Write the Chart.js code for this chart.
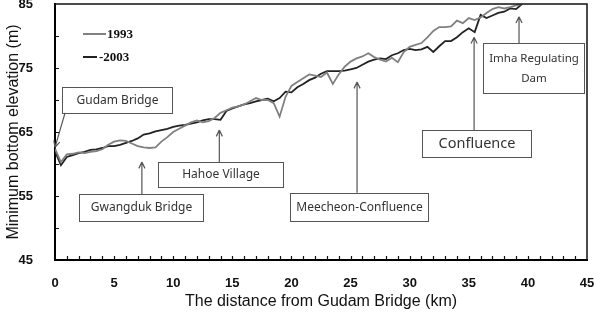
<!DOCTYPE html>
<html>
<head>
<meta charset="utf-8">
<script src="https://cdn.jsdelivr.net/npm/chart.js@4.4.1/dist/chart.umd.min.js"></script>
<style>
  html, body { margin: 0; padding: 0; background: #fff; }
  #wrap { width: 597px; height: 315px; }
</style>
</head>
<body>
<div id="wrap"><canvas id="chart"></canvas></div>
<script>
const DISTANCE_KM = [
  0, 0.5, 1, 1.5, 2, 2.5, 3, 3.5, 4, 4.5, 5, 5.5, 6, 6.5, 7, 7.5, 8, 8.5, 9, 9.5,
  10, 10.5, 11, 11.5, 12, 12.5, 13, 13.5, 14, 14.5, 15, 15.5, 16, 16.5, 17, 17.5, 18, 18.5, 19, 19.5,
  20, 20.5, 21, 21.5, 22, 22.5, 23, 23.5, 24, 24.5, 25, 25.5, 26, 26.5, 27, 27.5, 28, 28.5, 29, 29.5,
  30, 30.5, 31, 31.5, 32, 32.5, 33, 33.5, 34, 34.5, 35, 35.5, 36, 36.5, 37, 37.5, 38, 38.5, 39, 39.5,
];
const ELEV_1993 = [
  62.4, 60.3, 61.5, 61.6, 61.8, 61.7, 61.9, 62.0, 62.3, 63.0, 63.5, 63.7, 63.6, 63.2, 62.8, 62.6, 62.5, 62.6, 63.5, 64.2,
  65.0, 65.5, 66.0, 66.5, 66.8, 66.5, 66.7, 67.2, 68.0, 68.4, 68.8, 69.0, 69.3, 69.8, 70.3, 70.0, 70.0, 69.5, 67.4, 70.5,
  72.2, 72.8, 73.4, 74.0, 73.8, 73.6, 74.3, 72.5, 74.0, 75.2, 76.0, 76.5, 76.8, 77.3, 76.7, 76.3, 76.0, 76.6, 75.9, 77.5,
  78.3, 78.6, 78.9, 79.8, 80.8, 81.4, 81.4, 81.5, 82.4, 82.0, 82.8, 82.5, 82.9, 83.6, 84.2, 84.5, 84.3, 84.5, 84.8, 85.0,
];
const ELEV_2003 = [
  62.0, 59.8, 61.1, 61.4, 61.7, 61.9, 62.2, 62.3, 62.5, 62.8, 62.8, 63.0, 63.3, 63.6, 64.0, 64.6, 64.8, 65.1, 65.3, 65.5,
  65.8, 66.0, 66.1, 66.3, 66.5, 66.8, 67.0, 67.0, 66.9, 68.3, 68.7, 69.0, 69.3, 69.5, 69.8, 70.0, 70.2, 69.8, 70.3, 71.3,
  71.2, 72.0, 72.5, 73.1, 73.5, 74.1, 74.5, 74.5, 74.5, 74.6, 74.8, 75.0, 75.5, 76.0, 76.3, 76.5, 76.4, 77.0, 77.3, 77.8,
  78.0, 77.8, 77.9, 78.3, 77.5, 78.4, 79.2, 79.2, 79.8, 80.6, 81.2, 80.6, 83.3, 82.8, 83.2, 83.6, 83.8, 84.3, 84.2, 85.0,
];
const SERIES_LABELS = ["1993", "-2003"];
const X_TICK_LABELS = [0, 5, 10, 15, 20, 25, 30, 35, 40, 45];
const Y_TICK_LABELS = [45, 55, 65, 75, 85];

// callouts: box corners and arrow ends in data units (km, m)
const CALLOUTS = [
  { lines: ["Gudam Bridge"], box: [0.6, 9.9, 72.0, 68.0], from: [0.85, 68.0], to: [0.0, 62.6], size: 12 },
  { lines: ["Gwangduk Bridge"], box: [2.05, 12.5, 55.3, 51.1], from: [7.35, 55.3], to: [7.35, 60.3], size: 12 },
  { lines: ["Hahoe Village"], box: [8.7, 19.3, 60.3, 56.4], from: [13.9, 60.3], to: [13.9, 65.3], size: 12 },
  { lines: ["Meecheon-Confluence"], box: [19.9, 31.55, 55.5, 51.1], from: [25.55, 55.5], to: [25.55, 72.8], size: 12 },
  { lines: ["Confluence"], box: [31.05, 40.25, 65.3, 61.1], from: [35.45, 65.3], to: [35.45, 79.8], size: 14.5 },
  { lines: ["Imha Regulating", "Dam"], box: [36.2, 44.75, 78.9, 71.1], from: [39.25, 78.9], to: [39.25, 83.0], size: 11.5 },
];

const toPoints = (values) => values.map((v, i) => ({ x: DISTANCE_KM[i], y: v }));

const framePlugin = {
  id: "frame",
  afterDraw(chart) {
    const { ctx, chartArea: a, scales } = chart;
    const { x, y } = scales;
    ctx.save();
    ctx.strokeStyle = "#111";
    ctx.lineWidth = 1.5;
    ctx.beginPath();
    ctx.moveTo(a.left, a.top);
    ctx.lineTo(a.right, a.top);
    ctx.lineTo(a.right, a.bottom);
    ctx.stroke();

    // small inward tick marks
    ctx.lineWidth = 1.2;
    ctx.beginPath();
    for (let v = x.min + 1; v < x.max; v += 1) {
      const px = Math.round(x.getPixelForValue(v)) + 0.5;
      ctx.moveTo(px, a.bottom);
      ctx.lineTo(px, a.bottom - 4);
    }
    for (let v = y.min + 5; v < y.max; v += 5) {
      const py = Math.round(y.getPixelForValue(v)) + 0.5;
      ctx.moveTo(a.left, py);
      ctx.lineTo(a.left + 4, py);
    }
    ctx.stroke();
    ctx.restore();
  },
};

const calloutPlugin = {
  id: "callouts",
  afterDatasetsDraw(chart) {
    const { ctx, scales } = chart;
    const { x, y } = scales;
    ctx.save();
    CALLOUTS.forEach((c) => {
      const x0 = Math.round(x.getPixelForValue(c.box[0])) + 0.5;
      const x1 = Math.round(x.getPixelForValue(c.box[1])) + 0.5;
      const y0 = Math.round(y.getPixelForValue(c.box[2])) + 0.5;
      const y1 = Math.round(y.getPixelForValue(c.box[3])) + 0.5;
      ctx.fillStyle = "#fff";
      ctx.fillRect(x0, y0, x1 - x0, y1 - y0);
      ctx.strokeStyle = "#555";
      ctx.lineWidth = 1;
      ctx.strokeRect(x0, y0, x1 - x0, y1 - y0);

      ctx.fillStyle = "#333";
      ctx.font = `${c.size}px "Noto Sans", "Open Sans", sans-serif`;
      ctx.textAlign = "center";
      ctx.textBaseline = "middle";
      const lh = c.size * 1.75;
      const cy = (y0 + y1) / 2 - ((c.lines.length - 1) * lh) / 2;
      c.lines.forEach((t, i) => ctx.fillText(t, (x0 + x1) / 2, cy + i * lh));

      // arrow
      const fx = x.getPixelForValue(c.from[0]);
      const fy = y.getPixelForValue(c.from[1]);
      const tx = x.getPixelForValue(c.to[0]);
      const ty = y.getPixelForValue(c.to[1]);
      ctx.strokeStyle = "#555";
      ctx.lineWidth = 1.2;
      ctx.beginPath();
      ctx.moveTo(fx, fy);
      ctx.lineTo(tx, ty);
      const ang = Math.atan2(ty - fy, tx - fx);
      const head = 7;
      ctx.moveTo(tx, ty);
      ctx.lineTo(tx - head * Math.cos(ang - 0.45), ty - head * Math.sin(ang - 0.45));
      ctx.moveTo(tx, ty);
      ctx.lineTo(tx - head * Math.cos(ang + 0.45), ty - head * Math.sin(ang + 0.45));
      ctx.stroke();
    });
    ctx.restore();
  },
};

const legendPlugin = {
  id: "insideLegend",
  afterDraw(chart) {
    const { ctx, chartArea: a } = chart;
    ctx.save();
    ctx.font = 'bold 13px "Liberation Serif", "DejaVu Serif", serif';
    ctx.textBaseline = "middle";
    ctx.textAlign = "left";
    chart.data.datasets.forEach((ds, i) => {
      const ly = a.top + 30 + i * 23;
      const lx = a.left + 28;
      ctx.strokeStyle = ds.borderColor;
      ctx.lineWidth = 2;
      ctx.beginPath();
      ctx.moveTo(lx, ly);
      ctx.lineTo(lx + (i === 0 ? 23 : 14), ly);
      ctx.stroke();
      ctx.fillStyle = "#111";
      ctx.fillText(ds.label, lx + (i === 0 ? 24 : 16), ly + 1);
    });
    ctx.restore();
  },
};

new Chart(document.getElementById("chart"), {
  type: "line",
  data: {
    datasets: [
      {
        label: SERIES_LABELS[0],
        data: toPoints(ELEV_1993),
        borderColor: "#808080",
        borderWidth: 1.8,
        pointRadius: 0,
        tension: 0,
      },
      {
        label: SERIES_LABELS[1],
        data: toPoints(ELEV_2003),
        borderColor: "#222",
        borderWidth: 1.8,
        pointRadius: 0,
        tension: 0,
      },
    ],
  },
  options: {
    responsive: true,
    maintainAspectRatio: false,
    animation: false,
    layout: { padding: { top: 4, right: 10, left: 0, bottom: 0 } },
    scales: {
      x: {
        type: "linear",
        min: 0,
        max: 45,
        grid: { display: false },
        border: { display: true, color: "#000", width: 2 },
        ticks: {
          stepSize: 5,
          padding: 8,
          color: "#111",
          font: { family: '"Liberation Sans", Arial, sans-serif', size: 13, weight: "bold" },
          callback(value) {
            return X_TICK_LABELS.includes(value) ? String(value) : "";
          },
        },
        title: {
          display: true,
          text: "The distance from Gudam Bridge (km)",
          color: "#111",
          font: { family: '"Liberation Sans", Arial, sans-serif', size: 16 },
        },
        afterFit(scale) {
          scale.height = 55;
          scale.paddingLeft = 0;
          scale.paddingRight = 0;
        },
      },
      y: {
        min: 45,
        max: 85,
        grid: { display: false },
        border: { display: true, color: "#000", width: 2 },
        ticks: {
          stepSize: 5,
          padding: 14,
          color: "#111",
          font: { family: '"Liberation Sans", Arial, sans-serif', size: 13, weight: "bold" },
          callback(value) {
            return Y_TICK_LABELS.includes(value) ? String(value) : "";
          },
        },
        title: {
          display: true,
          text: "Minimum bottom elevation (m)",
          color: "#111",
          font: { family: '"Liberation Sans", Arial, sans-serif', size: 16 },
        },
        afterFit(scale) {
          scale.width = 55;
          scale.paddingTop = 0;
          scale.paddingBottom = 0;
        },
      },
    },
    plugins: {
      legend: { display: false },
      tooltip: { enabled: false },
    },
  },
  plugins: [framePlugin, calloutPlugin, legendPlugin],
});
</script>
</body>
</html>
